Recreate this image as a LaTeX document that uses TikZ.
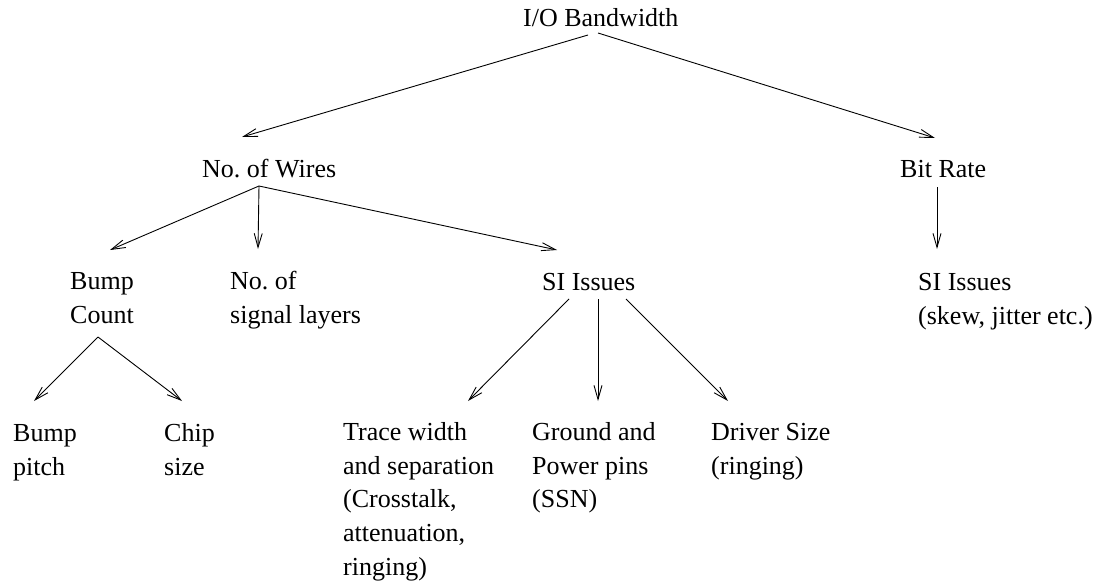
\documentclass[tikz,border=0pt]{standalone}
\usepackage{fontspec}
\setmainfont{Liberation Serif}
\usetikzlibrary{arrows.meta}
\frenchspacing

\begin{document}
\begin{tikzpicture}[x=1pt, y=1pt,
    item/.style={anchor=north west, inner sep=0pt, align=left,
                 font=\fontsize{26pt}{33.8pt}\selectfont},
    link/.style={line width=0.9pt, -{Straight Barb[length=14pt, width=8pt, line width=0.9pt]}}]
  \useasboundingbox (0,0) rectangle (1104,-586);

  % labels of the tree
  \node[item] (io)      at (523,-2.34)   {\strut I/O Bandwidth};
  \node[item] (wires)   at (202,-153.34) {\strut No. of Wires};
  \node[item] (bitrate) at (900,-153.34) {\strut Bit Rate};
  \node[item] (bump)    at (70,-265.34)  {\strut Bump\\\strut Count};
  \node[item] (layers)  at (230,-265.34) {\strut No. of\\\strut signal layers};
  \node[item] (si)      at (542,-266.34) {\strut SI Issues};
  \node[item] (sibr)    at (918,-266.34) {\strut SI Issues\\\strut (skew, jitter etc.)};
  \node[item] (pitch)   at (13,-417.34)  {\strut Bump\\\strut pitch};
  \node[item] (chip)    at (164,-417.34) {\strut Chip\\\strut size};
  \node[item] (trace)   at (343,-416.34) {\strut Trace width\\\strut and separation\\\strut (Crosstalk,\\\strut attenuation,\\\strut ringing)};
  \node[item] (ground)  at (532,-416.34) {\strut Ground and\\\strut Power pins\\\strut (SSN)};
  \node[item] (driver)  at (711,-416.34) {\strut Driver Size\\\strut (ringing)};

  % connectors
  \draw[link] ([shift={(65,-32.66)}]io.north west) -- ([shift={(40,16.34)}]wires.north west);
  \draw[link] ([shift={(75,-30.66)}]io.north west) -- ([shift={(35,15.34)}]bitrate.north west);

  \draw[link] ([shift={(57,-32.66)}]wires.north west) -- ([shift={(40,15.34)}]bump.north west);
  \draw[link] ([shift={(57,-32.66)}]wires.north west) -- ([shift={(28,16.34)}]layers.north west);
  \draw[link] ([shift={(57,-32.66)}]wires.north west) -- ([shift={(15,16.34)}]si.north west);

  \draw[link] ([shift={(37,-33.66)}]bitrate.north west) -- ([shift={(19,17.34)}]sibr.north west);

  \draw[link] ([shift={(28,-71.66)}]bump.north west) -- ([shift={(21,16.34)}]pitch.north west);
  \draw[link] ([shift={(28,-71.66)}]bump.north west) -- ([shift={(18,16.34)}]chip.north west);

  \draw[link] ([shift={(27,-32.66)}]si.north west) -- ([shift={(125,15.34)}]trace.north west);
  \draw[link] ([shift={(56,-32.66)}]si.north west) -- ([shift={(66,15.34)}]ground.north west);
  \draw[link] ([shift={(84,-32.66)}]si.north west) -- ([shift={(17,15.34)}]driver.north west);
\end{tikzpicture}
\end{document}
